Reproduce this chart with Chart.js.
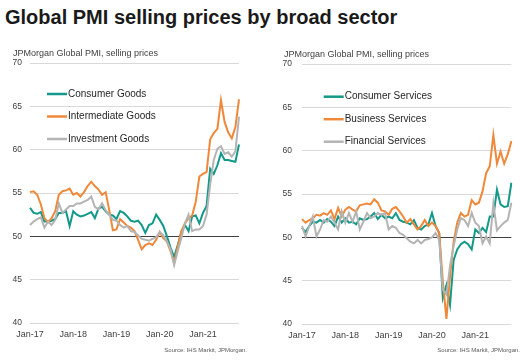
<!DOCTYPE html>
<html><head><meta charset="utf-8">
<script src="https://cdn.jsdelivr.net/npm/chart.js@4/dist/chart.umd.min.js"></script>
<style>
html,body{margin:0;padding:0;background:#fff;}
body{width:524px;height:363px;position:relative;overflow:hidden;font-family:"Liberation Sans",Arial,sans-serif;}
#title{position:absolute;left:5px;top:5px;font-size:20px;font-weight:bold;line-height:24px;color:#1a1a1a;white-space:nowrap;}
.sub{position:absolute;font-size:9px;line-height:10px;color:#404040;white-space:nowrap;}
.src{position:absolute;font-size:6px;line-height:7px;color:#595959;white-space:nowrap;}
.box{position:absolute;top:0;width:262px;height:363px;}
</style></head>
<body>
<div id="title">Global PMI selling prices by broad sector</div>
<div class="box" style="left:0"><canvas id="c1" width="262" height="363"></canvas></div>
<div class="box" style="left:262px"><canvas id="c2" width="262" height="363"></canvas></div>
<div class="sub" style="left:13px;top:48px">JPMorgan Global PMI, selling prices</div>
<div class="sub" style="left:284px;top:49px">JPMorgan Global PMI, selling prices</div>
<div class="src" style="right:277px;top:347px">Source: IHS Markit, JPMorgan.</div>
<div class="src" style="right:4px;top:347px">Source: IHS Markit, JPMorgan.</div>
<script>
// ---- data ----
const monthNames = ['Jan','Feb','Mar','Apr','May','Jun','Jul','Aug','Sep','Oct','Nov','Dec'];
const years = ['17','18','19','20','21'];
const monthCount = 59; // Jan-17 .. Nov-21
const months = [];
for (const y of years) for (const m of monthNames) if (months.length < monthCount) months.push(m + '-' + y);

const consumerGoods = [53.3,52.7,52.6,52.8,51.7,51.7,51.8,52.0,52.7,52.7,52.9,51.2,
  52.9,52.5,52.3,52.4,52.6,52.8,52.1,53.2,53.4,52.9,52.5,52.4,
  52.0,52.9,52.7,52.3,51.8,51.7,51.8,51.3,50.4,51.3,51.5,52.5,
  51.9,51.2,50.0,48.7,47.6,49.0,50.5,51.3,50.6,52.3,52.4,51.5,
  52.7,53.5,57.8,57.2,58.2,59.6,58.8,58.8,58.7,58.6,60.6];
const intermediateGoods = [55.1,55.2,54.8,53.7,52.1,51.6,52.1,52.9,54.8,55.2,55.3,55.5,
  54.8,55.0,54.6,55.1,55.8,56.3,55.8,55.4,54.8,55.1,53.0,50.7,
  50.8,52.0,51.6,51.2,51.0,50.6,49.6,48.5,49.0,49.2,49.0,49.6,
  50.5,49.8,49.4,48.3,46.9,48.8,50.6,51.5,52.1,52.4,54.0,56.9,
  57.2,57.4,61.2,61.9,62.4,65.7,63.2,62.0,61.3,62.6,65.8];
const investmentGoods = [51.3,51.7,52.0,52.2,51.0,51.7,51.3,51.9,53.8,52.7,53.1,53.5,
  53.5,53.8,53.8,54.0,54.2,54.6,53.4,53.1,53.8,53.0,52.5,51.9,
  51.8,51.3,51.0,51.2,50.6,50.5,50.1,49.7,49.6,49.5,49.7,49.9,
  50.5,50.1,49.4,48.5,46.7,48.3,49.8,51.5,52.5,50.6,50.8,50.8,
  51.2,52.5,56.0,58.8,60.1,60.4,59.5,59.7,59.2,59.8,63.8];

const consumerServices = [51.1,50.6,51.3,51.8,51.7,52.0,51.7,52.1,51.8,51.3,52.4,51.7,
  52.2,51.7,51.8,51.5,52.2,52.0,52.1,52.4,52.8,52.1,52.6,52.2,
  52.4,52.2,52.8,52.0,51.8,51.7,51.5,52.0,51.1,50.9,51.3,51.5,
  52.8,51.3,50.5,43.0,44.5,42.2,47.4,48.6,49.2,49.5,49.2,48.6,
  50.9,50.5,51.1,50.6,52.4,52.4,55.5,53.8,53.5,53.6,56.3];
const businessServices = [52.1,51.7,52.0,52.2,52.6,52.5,52.8,52.6,53.1,52.1,53.4,52.4,
  53.2,53.5,53.2,53.0,53.7,53.8,53.9,53.8,54.4,54.0,53.1,53.0,
  52.6,53.3,53.5,53.0,52.4,51.7,52.1,51.5,50.9,51.3,52.0,51.3,
  51.7,51.3,50.5,45.0,40.6,45.5,49.5,51.7,52.8,52.4,52.6,54.3,
  53.8,54.0,55.3,57.4,58.2,61.8,58.5,59.9,58.5,59.6,61.1];
const financialServices = [51.3,50.1,51.3,52.4,50.1,50.9,52.0,51.8,52.4,51.7,50.9,53.0,
  51.7,52.8,51.8,53.0,50.9,51.8,52.8,52.2,52.4,52.8,52.6,52.8,
  50.9,51.3,51.1,50.5,50.3,49.9,49.5,49.3,49.7,49.3,49.7,49.8,
  50.0,50.5,49.7,44.0,43.4,46.7,49.0,50.9,52.2,52.0,51.3,52.8,
  51.7,51.3,49.3,50.1,49.3,53.9,50.8,51.3,51.7,52.0,54.0];

const yTicks = [40,45,50,55,60,65,70];

// ---- styling ----
const FONT = '"Liberation Sans", Arial, sans-serif';
const TEAL = '#13998a', ORANGE = '#f0883a', GREY = '#b4b4b4';

const inLegend = {
  id: 'inLegend',
  afterDatasetsDraw(chart, args, o) {
    const {ctx, chartArea} = chart;
    ctx.save();
    ctx.font = '10px ' + FONT;
    ctx.textBaseline = 'middle';
    ctx.fillStyle = '#262626';
    chart.data.datasets.forEach((ds, i) => {
      const x = chartArea.left + o.dx;
      const y = chartArea.top + o.dy + i * o.gap;
      ctx.strokeStyle = ds.borderColor;
      ctx.lineWidth = 2.5;
      ctx.beginPath(); ctx.moveTo(x, y); ctx.lineTo(x + o.len, y); ctx.stroke();
      ctx.fillText(ds.label, x + o.len + 1, y);
    });
    ctx.restore();
  }
};

function makeChart(id, names, series, geo) {
  const colors = [TEAL, ORANGE, GREY];
  new Chart(document.getElementById(id), {
    type: 'line',
    data: {
      labels: months,
      datasets: series.map((s, i) => ({
        label: names[i], data: s, borderColor: colors[i], backgroundColor: colors[i],
        borderWidth: 2, pointRadius: 0, tension: 0, fill: false, order: 3 - i
      }))
    },
    options: {
      responsive: false, animation: false,
      layout: {padding: {top: geo.top, right: geo.right, bottom: 0, left: 0}},
      plugins: {legend: {display: false}, tooltip: {enabled: false}, inLegend: geo.legend},
      scales: {
        x: {
          type: 'category', offset: false,
          grid: {display: false, drawTicks: false}, border: {display: false},
          afterFit: s => { s.height = geo.xh; },
          ticks: {
            autoSkip: false, maxRotation: 0, minRotation: 0, padding: 6,
            color: '#404040', font: {family: FONT, size: 9},
            callback: (v, i) => (i % 12 === 0 ? months[i] : '')
          }
        },
        y: {
          min: yTicks[0], max: yTicks[yTicks.length - 1],
          afterFit: s => { s.width = geo.yw; },
          afterBuildTicks: s => { s.ticks = yTicks.map(v => ({value: v})); },
          border: {display: false},
          grid: {drawTicks: false, lineWidth: 1,
                 color: c => (c.tick && c.tick.value === 50 ? '#404040' : '#d9d9d9')},
          ticks: {padding: geo.ypad, color: '#404040', font: {family: FONT, size: 8.5}}
        }
      }
    },
    plugins: [inLegend]
  });
}

makeChart('c1', ['Consumer Goods', 'Intermediate Goods', 'Investment Goods'],
  [consumerGoods, intermediateGoods, investmentGoods],
  {top: 63, right: 23, xh: 40, yw: 30, ypad: 8, legend: {dx: 17, dy: 31, gap: 22.5, len: 20}});
makeChart('c2', ['Consumer Services', 'Business Services', 'Financial Services'],
  [consumerServices, businessServices, financialServices],
  {top: 64, right: 12.6, xh: 39, yw: 40, ypad: 10, legend: {dx: 21.7, dy: 32.7, gap: 22.5, len: 20}});
</script>
</body></html>
